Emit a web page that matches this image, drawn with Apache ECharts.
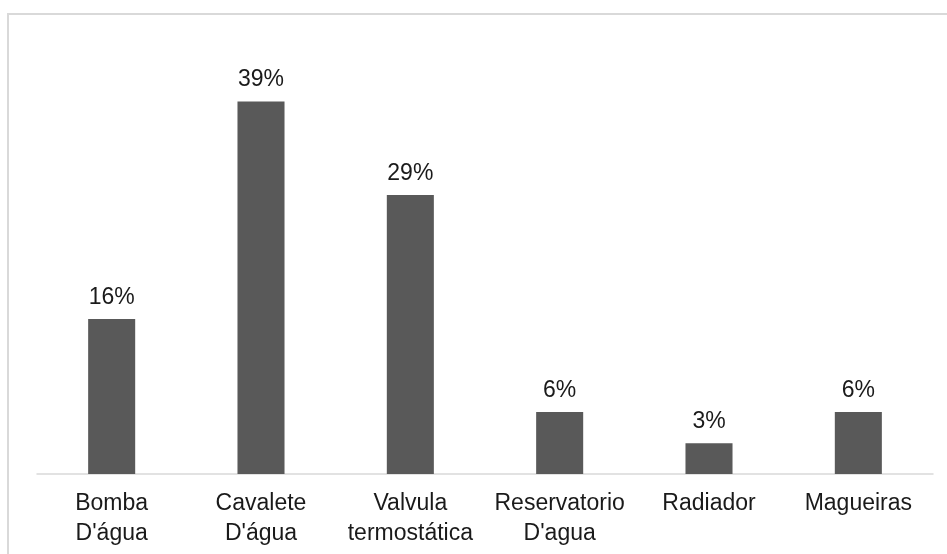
<!DOCTYPE html>
<html>
<head>
<meta charset="utf-8">
<title>Componentes</title>
<script src="https://cdn.jsdelivr.net/npm/echarts@6/dist/echarts.min.js"></script>
<style>
  html, body { margin: 0; padding: 0; background: #ffffff; }
  #chart { width: 947px; height: 554px; }
</style>
</head>
<body>
<div id="chart"></div>
<script>
// Component categories (two-line labels)
const categories = [
  'Bomba\nD\'água',
  'Cavalete\nD\'água',
  'Valvula\ntermostática',
  'Reservatorio\nD\'agua',
  'Radiador',
  'Magueiras'
];

// Share of occurrences per component, in percent
const shares = [16.1, 38.7, 29.0, 6.45, 3.2, 6.45];

// Value axis range (axis itself is hidden)
const axisMin = 0;
const axisMax = 45;

const chart = echarts.init(document.getElementById('chart'), null, { renderer: 'canvas' });

const textFont = 'Liberation Sans, Arial, Helvetica, sans-serif';

chart.setOption({
  animation: false,
  backgroundColor: '#ffffff',
  graphic: [
    {
      type: 'rect',
      shape: { x: 8, y: 14, width: 960, height: 560 },
      style: { fill: 'none', stroke: '#d9d9d9', lineWidth: 2 },
      silent: true,
      z: 0
    }
  ],
  grid: {
    left: 37,
    right: 14,
    top: 41,
    bottom: 80,
    containLabel: false
  },
  xAxis: {
    type: 'category',
    data: categories,
    axisLine: { show: true, lineStyle: { color: '#d9d9d9', width: 1.5 } },
    axisTick: { show: false },
    axisLabel: {
      interval: 0,
      color: '#1a1a1a',
      fontFamily: textFont,
      fontSize: 23,
      lineHeight: 30,
      margin: 15,
      align: 'center'
    }
  },
  yAxis: {
    type: 'value',
    min: axisMin,
    max: axisMax,
    show: false,
    splitLine: { show: false }
  },
  series: [
    {
      type: 'bar',
      data: shares,
      barWidth: '31.5%',
      itemStyle: { color: '#595959' },
      label: {
        show: true,
        position: 'top',
        distance: 10,
        color: '#1a1a1a',
        fontFamily: textFont,
        fontSize: 23,
        formatter: p => Math.round(p.value) + '%'
      }
    }
  ]
});
</script>
</body>
</html>
